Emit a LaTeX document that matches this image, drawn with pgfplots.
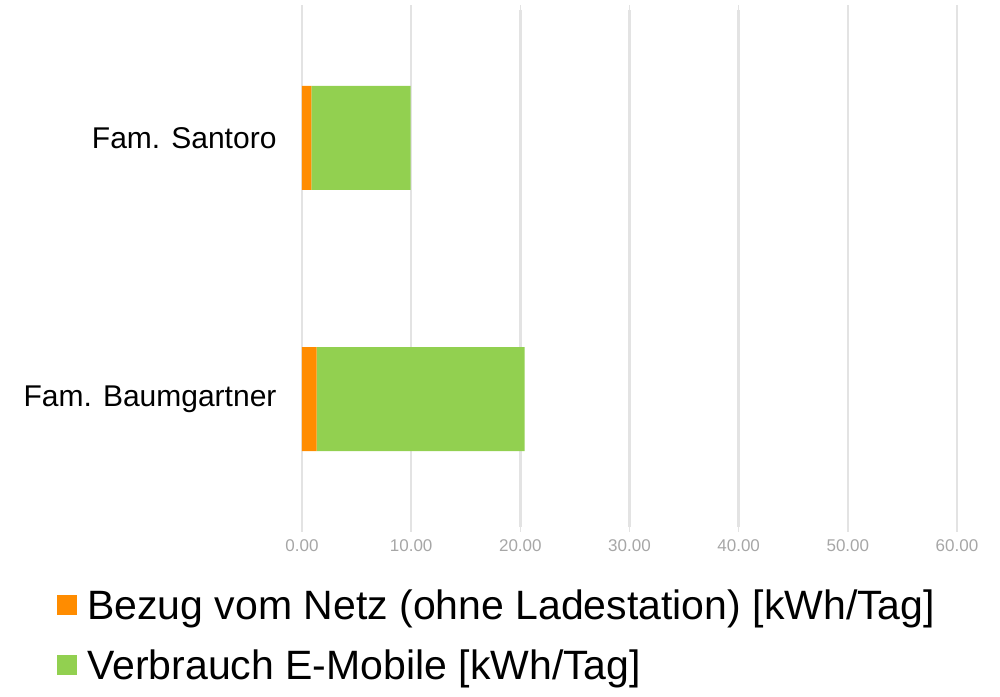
\documentclass[border=0pt]{standalone}
\usepackage{pgfplots}
\pgfplotsset{compat=1.18}
\usepackage{fontspec}
\setmainfont{Liberation Sans}
\definecolor{netz}{HTML}{FF8C00}
\definecolor{emob}{HTML}{92D050}
\definecolor{gridc}{HTML}{E3E3E3}
\definecolor{tickc}{HTML}{A6A6A6}
\begin{document}
\begin{tikzpicture}
\path[use as bounding box] (-302pt,-169pt) rectangle (698pt,527pt);
\begin{axis}[
  at={(0pt,0pt)}, anchor=south west,
  scale only axis,
  width=655pt, height=517pt,
  xbar stacked,
  bar width=104pt,
  xmin=0, xmax=60,
  ymin=-0.49, ymax=1.49,
  xtick={0,10,...,60},
  ytick={0,1},
  yticklabels={Fam. Baumgartner, Fam. Santoro},
  axis line style={draw=none},
  xmajorgrids,
  major grid style={gridc, line width=2.5pt},
  xtick style={gridc, line width=1.5pt},
  major tick length=5pt,
  tick align=outside,
  ytick style={draw=none},
  xticklabel style={font=\fontsize{17}{20}\selectfont, text=tickc, yshift=-4pt},
  yticklabel style={font=\fontsize{30}{36}\selectfont, text=black, xshift=-17pt},
  /pgf/number format/assume math mode=true,
  /pgf/number format/fixed, /pgf/number format/fixed zerofill, /pgf/number format/precision=2,
  legend style={at={(axis description cs:-0.374,-0.093)}, anchor=north west, draw=none, fill=none,
    font=\fontsize{41}{48}\selectfont, inner sep=0pt, row sep=0pt,
    nodes={inner sep=1pt, anchor=west}},
  legend cell align=left,
  legend image code/.code={\path[fill=none,draw=none] (0pt,-30pt) rectangle (29pt,30pt);\fill[#1] (0pt,-10pt) rectangle (20pt,10pt);},
]
\addplot[fill=netz, draw=none] coordinates {(0.85,1) (1.35,0)};
\addplot[fill=emob, draw=none] coordinates {(9.1,1) (19.05,0)};
\legend{Bezug vom Netz (ohne Ladestation) [kWh/Tag], Verbrauch E-Mobile [kWh/Tag]}
\end{axis}
\end{tikzpicture}
\end{document}
